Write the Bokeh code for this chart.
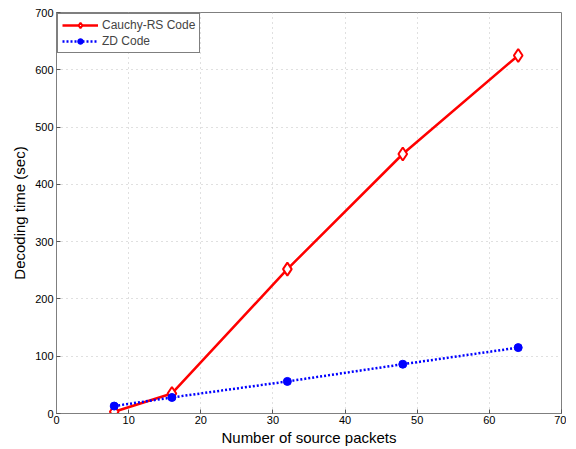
from bokeh.plotting import figure
from bokeh.models import Range1d, FixedTicker, Legend, LegendItem
from bokeh.embed import file_html
from bokeh.resources import INLINE

packets = [8, 16, 32, 48, 64]
cauchy_rs = [3, 35, 252, 453, 625]
zd_code = [13, 28, 56, 86, 115]
x_ticks = [0, 10, 20, 30, 40, 50, 60, 70]
y_ticks = [0, 100, 200, 300, 400, 500, 600, 700]

FONT = "Liberation Sans"

p = figure(width=566, height=448, output_backend="svg", toolbar_location=None,
           x_range=Range1d(0, 70), y_range=Range1d(0, 700),
           min_border_left=56, min_border_right=5, min_border_top=12, min_border_bottom=28)
p.outline_line_color = "#7f7f7f"
p.outline_line_width = 1

for ax, ticks in ((p.xaxis[0], x_ticks), (p.yaxis[0], y_ticks)):
    ax.ticker = FixedTicker(ticks=ticks)
    ax.major_tick_in = 4
    ax.major_tick_out = 0
    ax.minor_tick_line_color = None
    ax.axis_line_color = "#7f7f7f"
    ax.major_tick_line_color = "#555555"
    ax.major_label_text_font = FONT
    ax.major_label_text_font_size = "11px"
    ax.major_label_text_color = "black"
    ax.axis_label_text_font = FONT
    ax.axis_label_text_font_size = "15px"
    ax.axis_label_text_font_style = "normal"
    ax.axis_label_text_color = "black"

p.xaxis[0].axis_label = "Number of source packets"
p.yaxis[0].axis_label = "Decoding time (sec)"
p.xaxis[0].major_label_standoff = 2
p.xaxis[0].axis_label_standoff = 2
p.yaxis[0].major_label_standoff = 3
p.yaxis[0].axis_label_standoff = 4

p.xgrid.ticker = FixedTicker(ticks=x_ticks)
p.ygrid.ticker = FixedTicker(ticks=y_ticks)
for g in (p.xgrid, p.ygrid):
    g.grid_line_color = "#c0c0c0"
    g.grid_line_dash = "1 4"
    g.grid_line_width = 1

r1 = p.line(packets, cauchy_rs, line_color="#ff0000", line_width=2.5)
m1 = p.scatter(packets, cauchy_rs, marker="diamond", size=13, line_color="#ff0000",
               fill_color="white", line_width=2)
r2 = p.line(packets, zd_code, line_color="#0000ff", line_width=2.5, line_dash="2 2")
m2 = p.scatter(packets, zd_code, marker="circle", size=8, line_color="#0000ff",
               fill_color="#0000ff")

legend = Legend(items=[LegendItem(label="Cauchy-RS Code", renderers=[r1, m1]),
                       LegendItem(label="ZD Code", renderers=[r2, m2])],
                location="top_left")
legend.label_text_font = FONT
legend.label_text_font_size = "12px"
legend.label_height = 14
legend.glyph_height = 14
legend.glyph_width = 36
legend.spacing = 2
legend.padding = 4
legend.margin = 1
legend.border_line_color = "black"
legend.border_line_width = 1
legend.background_fill_alpha = 1
legend.label_standoff = 4
p.add_layout(legend, "center")

open("out.html", "w").write(file_html(p, INLINE))
